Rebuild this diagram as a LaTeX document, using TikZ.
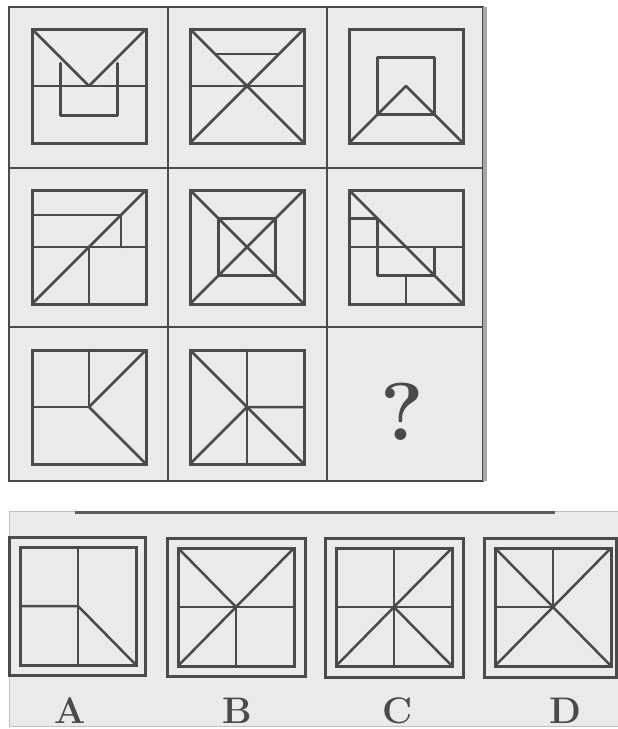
\documentclass[tikz,border=0pt]{standalone}
\definecolor{ln}{HTML}{4A4A4A}
\definecolor{bg}{HTML}{EAEAEA}
\tikzset{
  fig/.style={draw=ln, line width=2.5pt, line join=round, line cap=round},
  frame/.style={draw=ln, line width=3pt},
  gridline/.style={draw=ln, line width=2.4pt},
  lbl/.style={text=ln, font=\fontsize{37}{37}\selectfont\bfseries, anchor=base, inner sep=0pt}
}
\newcommand\cellsq[3]{%
  \begin{scope}[shift={(#1,#2)},x=114pt,y=-114pt]
    \draw[frame] (0,0) rectangle (1,1);
    \begin{scope}[fig] #3 \end{scope}
  \end{scope}}
\newcommand\optsq[5]{%
  \draw[frame] (#1,#2) rectangle (#3,#4);
  \begin{scope}[shift={(#1+11,#2+10)},x=116pt,y=-118pt]
    \draw[frame] (0,0) rectangle (1,1);
    \begin{scope}[fig] #5 \end{scope}
  \end{scope}}
\begin{document}
\begin{tikzpicture}[x=1pt,y=-1pt]
\useasboundingbox (0,0) rectangle (618,729);
\fill[white] (0,0) rectangle (618,729);
% ---------- grid ----------
\fill[bg] (9,7) rectangle (483,481);
\draw[gridline] (9,7) rectangle (483,481);
\draw[gray!70, line width=3.5pt] (485,7) -- (485,481);
\draw[gridline] (168,7) -- (168,481);
\draw[gridline] (327,7) -- (327,481);
\draw[gridline] (9,168) -- (483,168);
\draw[gridline] (9,327) -- (483,327);
% row 1
\cellsq{32}{29}{
  \draw (0,0) -- (0.5,0.5) -- (1,0);
  \draw (0,0.5) -- (1,0.5);
  \draw (0.25,0.3) -- (0.25,0.76) -- (0.75,0.76) -- (0.75,0.3);}
\cellsq{190}{29}{
  \draw (0,0) -- (1,1); \draw (1,0) -- (0,1);
  \draw (0,0.5) -- (1,0.5);
  \draw (0.22,0.22) -- (0.78,0.22);}
\cellsq{349}{29}{
  \draw (0.25,0.25) rectangle (0.75,0.75);
  \draw (0,1) -- (0.5,0.5) -- (1,1);}
% row 2
\cellsq{32}{190}{
  \draw (0,1) -- (1,0);
  \draw (0,0.5) -- (1,0.5);
  \draw (0.5,0.5) -- (0.5,1);
  \draw (0,0.22) -- (0.78,0.22) -- (0.78,0.5);}
\cellsq{190}{190}{
  \draw (0,0) -- (1,1); \draw (1,0) -- (0,1);
  \draw (0.25,0.25) rectangle (0.75,0.75);}
\cellsq{349}{190}{
  \draw (0,0) -- (1,1);
  \draw (0,0.5) -- (1,0.5);
  \draw (0,0.25) -- (0.25,0.25) -- (0.25,0.75) -- (0.75,0.75) -- (0.75,0.5);
  \draw (0.5,0.75) -- (0.5,1);}
% row 3
\cellsq{32}{350}{
  \draw (0.5,0) -- (0.5,0.5) -- (0,0.5);
  \draw (1,0) -- (0.5,0.5) -- (1,1);}
\cellsq{190}{350}{
  \draw (0,0) -- (1,1);
  \draw (0,1) -- (0.5,0.5) -- (1,0.5);
  \draw (0.5,0) -- (0.5,1);}
\node[text=ln, font=\fontsize{82}{82}\selectfont\bfseries, anchor=base, inner sep=0pt] (qm) at (402,440) {?};
% ---------- options panel ----------
\fill[bg] (9,511) rectangle (618,727);
\draw[gray!50, line width=1pt] (618,511) -- (9,511) -- (9,727);
\draw[ln!90, line width=3pt] (75,512) -- (555,512);
\optsq{9}{537}{145}{675}{
  \draw (0.5,0) -- (0.5,1);
  \draw (0,0.5) -- (0.5,0.5) -- (1,1);}
\optsq{167}{538}{305}{676}{
  \draw (0,0) -- (0.5,0.5);
  \draw (1,0) -- (0,1);
  \draw (0,0.5) -- (1,0.5);
  \draw (0.5,0.5) -- (0.5,1);}
\optsq{325}{538}{463}{677}{
  \draw (0.5,0) -- (0.5,1);
  \draw (0,0.5) -- (1,0.5);
  \draw (0,1) -- (1,0);
  \draw (0.5,0.5) -- (1,1);}
\optsq{484}{538}{616}{677}{
  \draw (0,0) -- (1,1); \draw (1,0) -- (0,1);
  \draw (0.5,0) -- (0.5,0.5) -- (0,0.5);}
\node[lbl] (la) at (70,723) {A};
\node[lbl] (lb) at (237,723) {B};
\node[lbl] (lc) at (398,723) {C};
\node[lbl] (ld) at (565,723) {D};
\draw[gray!50, line width=1.2pt] (9,726.5) -- (618,726.5);
\end{tikzpicture}
\end{document}
